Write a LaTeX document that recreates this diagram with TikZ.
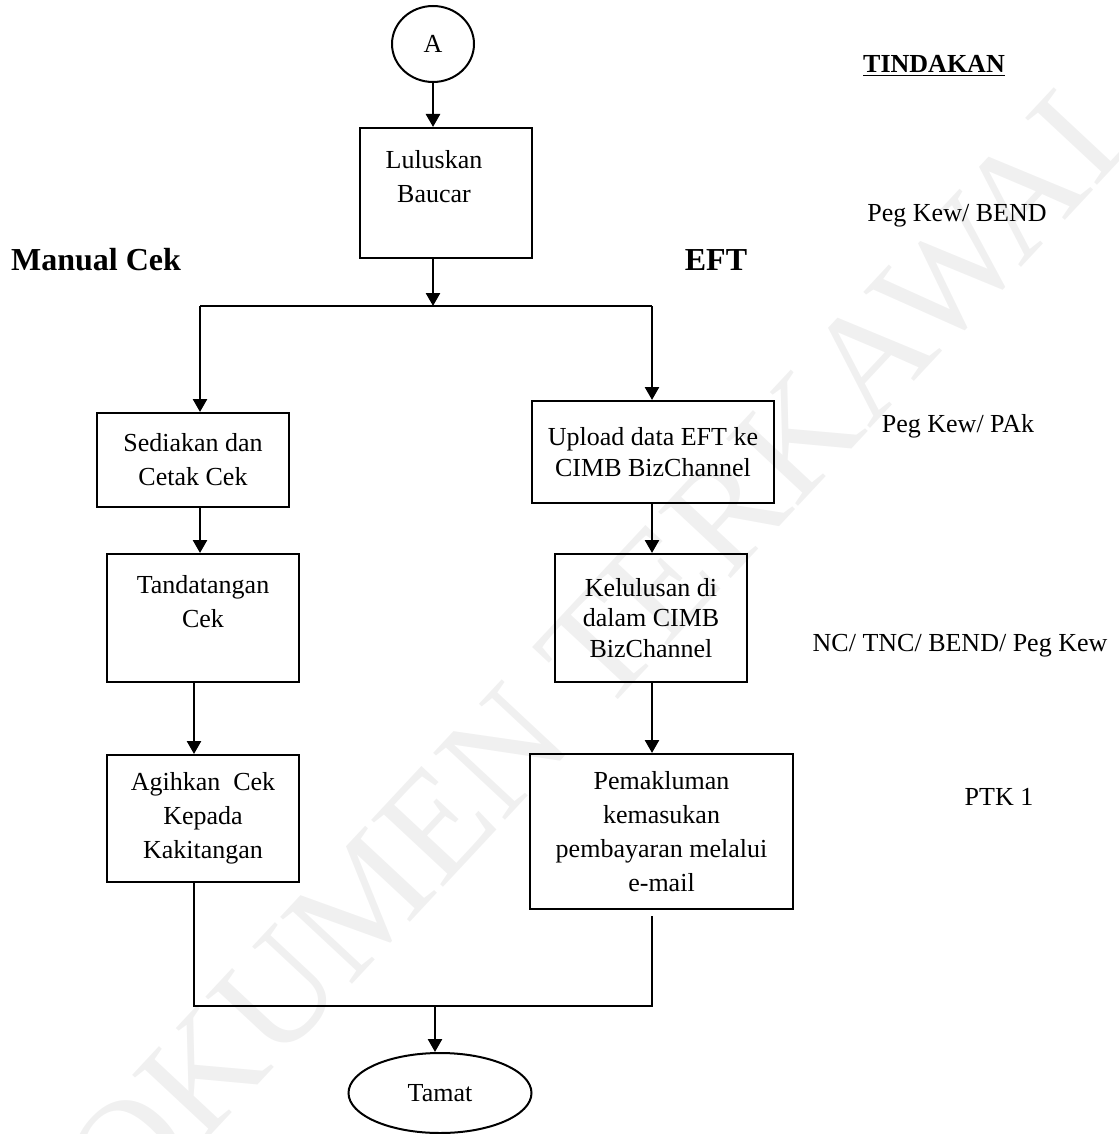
\documentclass[tikz,border=0pt]{standalone}
\usepackage{fontspec}
\setmainfont{Liberation Serif}
\usetikzlibrary{arrows.meta, positioning, shapes.geometric}

\begin{document}
\begin{tikzpicture}[
    x=0.5pt, y=-0.5pt,
    font=\fontsize{13}{17}\selectfont,
    box/.style={rectangle, draw, line width=1pt, align=center, inner sep=0pt},
    term/.style={ellipse, draw, line width=1pt, inner sep=0pt},
    txt/.style={align=center, inner sep=0pt},
    head/.style={font=\fontsize{16}{19}\selectfont\bfseries, inner sep=0pt},
    role/.style={anchor=base, inner sep=0pt},
    tight/.style={font=\fontsize{13}{15.3}\selectfont},
    arr/.style={-{Triangle[length=6.5pt, width=7pt]}, line width=1.3pt},
    flow/.style={line width=0.8pt}
  ]
    \useasboundingbox (0,0) rectangle (1118,1134);

    %% ── Watermark
    \node[rotate=47, text=gray!12, inner sep=0pt,
          font=\fontsize{75}{75}\selectfont] (mark) at (570,680) {DOKUMEN TERKAWAL};

    %% ── Start / approval
    \node[term, minimum width=41pt, minimum height=38pt] (start) at (433,44) {A};
    \node[box, minimum width=86pt, minimum height=65pt] (lulus) at (446,193) {};
    \node[txt] (lulustxt) at (434,177) {Luluskan\\Baucar};

    %% ── Column headings
    \node[head] (manual) at (96,260) {Manual Cek};
    \node[head] (eft)    at (716,260) {EFT};

    %% ── Manual cheque branch
    \node[box, minimum width=96pt, minimum height=47pt] (sedia) at (193,460) {Sediakan dan\\Cetak Cek};
    \node[box, minimum width=96pt, minimum height=64pt] (tanda) at (203,618) {Tandatangan\\Cek\\\mbox{}};
    \node[box, minimum width=96pt, minimum height=63.5pt] (agih) at (203,818.5) {Agihkan\ \ Cek\\Kepada\\Kakitangan};

    %% ── EFT branch
    \node[box, tight, minimum width=121pt, minimum height=51pt] (upload) at (653,452) {Upload data EFT ke\\CIMB BizChannel};
    \node[box, tight, minimum width=96pt, minimum height=64pt] (kelul) at (651,618) {Kelulusan di\\dalam CIMB\\BizChannel};
    \node[box, minimum width=131.5pt, minimum height=77.5pt] (mak) at (661.5,831.5) {Pemakluman\\kemasukan\\pembayaran melalui\\e-mail};

    %% ── End
    \node[term, minimum width=91.5pt, minimum height=40pt] (tamat) at (440,1093) {Tamat};

    %% ── Action column
    \node[role] (tindakan) at (934,73) {\bfseries\underline{TINDAKAN}};
    \node[role] (r1) at (957,221) {Peg Kew/ BEND};
    \node[role] (r2) at (958,432) {Peg Kew/ PAk};
    \node[role] (r3) at (960,651) {NC/ TNC/ BEND/ Peg Kew};
    \node[role] (r4) at (999,805) {PTK 1};

    %% Junction points
    \coordinate (fork)   at (433,306);
    \coordinate (forkL)  at (200,306);
    \coordinate (forkR)  at (652,306);
    \coordinate (mergeL) at (194,1006);
    \coordinate (mergeR) at (652,1006);
    \coordinate (mergeC) at (435,1006);

    %% Arrows: start -> approval -> fork
    \draw[arr] (start) -- (start.south |- lulus.north);
    \draw[arr] (fork |- lulus.south) -- (fork);
    \draw[flow, line width=1.1pt] (forkL) -- (forkR);
    \draw[arr] (forkL) -- (forkL |- sedia.north);
    \draw[arr] (forkR) -- (forkR |- upload.north);

    %% Arrows: manual branch
    \draw[arr] (forkL |- sedia.south) -- (forkL |- tanda.north);
    \draw[arr] (mergeL |- tanda.south) -- (mergeL |- agih.north);

    %% Arrows: EFT branch
    \draw[arr] (forkR |- upload.south) -- (forkR |- kelul.north);
    \draw[arr] (forkR |- kelul.south) -- (forkR |- mak.north);

    %% Merge -> end
    \draw[flow] (mergeL |- agih.south) -- (mergeL) -- (mergeR) -- ([yshift=-3pt]mergeR |- mak.south);
    \draw[arr] (mergeC) -- (mergeC |- tamat.north);

  \end{tikzpicture}
\end{document}
